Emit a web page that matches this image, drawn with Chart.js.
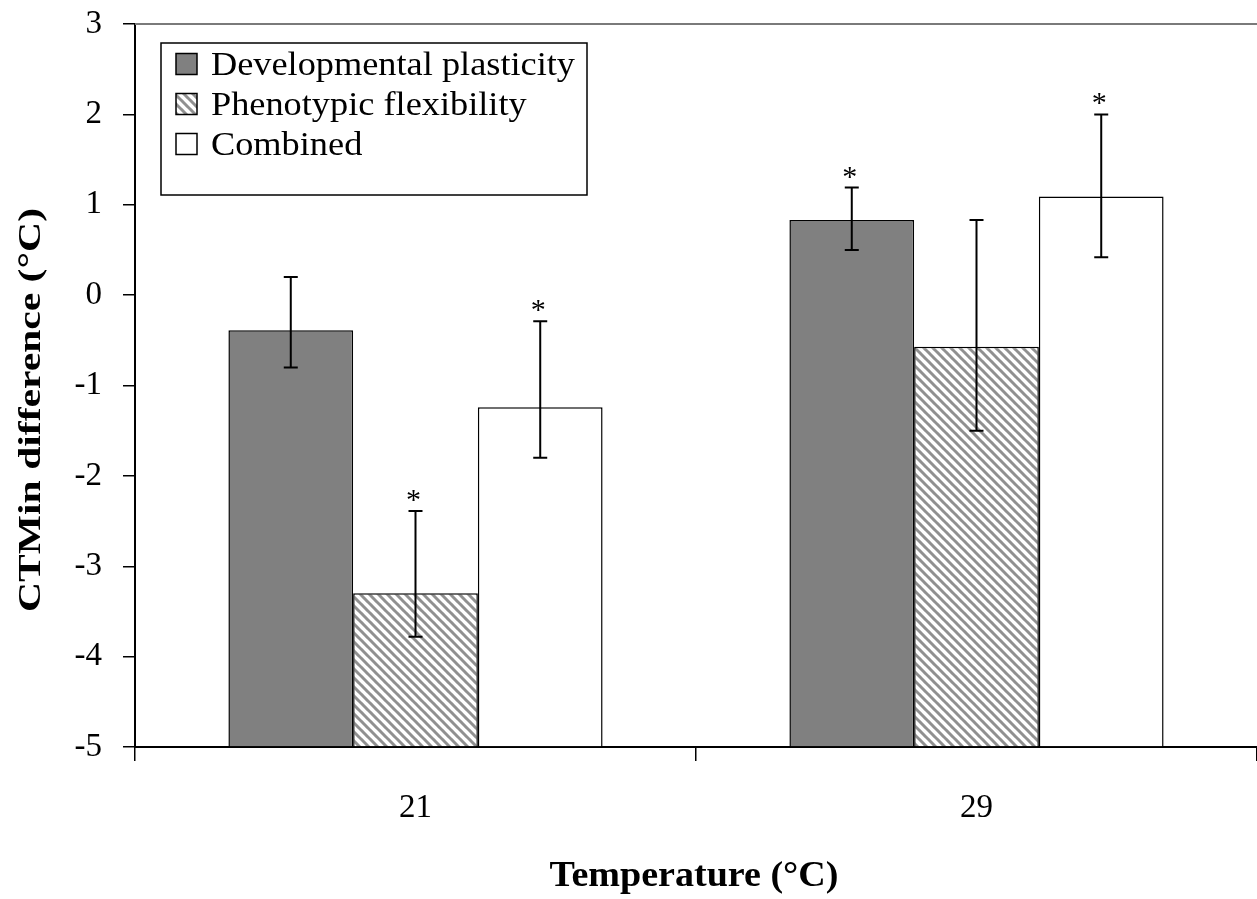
<!DOCTYPE html>
<html><head><meta charset="utf-8">
<script src="https://cdn.jsdelivr.net/npm/chart.js@4.4.1/dist/chart.umd.min.js"></script>
<style>html,body{margin:0;padding:0;background:#fff;} #wrap{width:1257px;height:899px;position:relative;}</style>
</head><body><div id="wrap"><canvas id="c"></canvas></div>
<script>
// ---- data ----
const categories = ['21', '29'];
const seriesNames = ['Developmental plasticity', 'Phenotypic flexibility', 'Combined'];
const devValues  = [-0.39, 0.83];
const phenValues = [-3.30, -0.57];
const combValues = [-1.24, 1.09];
const devErrHigh  = [0.20, 1.19];
const devErrLow   = [-0.80, 0.50];
const phenErrHigh = [-2.39, 0.83];
const phenErrLow  = [-3.78, -1.50];
const combErrHigh = [-0.29, 2.00];
const combErrLow  = [-1.80, 0.42];
const devSig  = [false, true];
const phenSig = [true, false];
const combSig = [true, true];
const yMin = -5, yMax = 3, yStep = 1;
const xTitle = 'Temperature (\u00B0C)';
const yTitle = 'CTMin difference (\u00B0C)';

const FONT = '"Liberation Serif", "Times New Roman", serif';

// hatch pattern
function makeHatch() {
  const s = 9;
  const pc = document.createElement('canvas');
  pc.width = s; pc.height = s;
  const p = pc.getContext('2d');
  p.fillStyle = '#ffffff'; p.fillRect(0, 0, s, s);
  p.strokeStyle = '#909090'; p.lineWidth = 3;
  for (const off of [-s, 0, s]) {
    p.beginPath(); p.moveTo(off - 1, -1); p.lineTo(off + s + 1, s + 1); p.stroke();
  }
  return p.createPattern(pc, 'repeat');
}
const hatch = makeHatch();

const errHigh = [devErrHigh, phenErrHigh, combErrHigh];
const errLow = [devErrLow, phenErrLow, combErrLow];
const sigs = [devSig, phenSig, combSig];

const errorBarPlugin = {
  id: 'errorBars',
  afterDatasetsDraw(chart) {
    const ctx = chart.ctx, y = chart.scales.y;
    ctx.save();
    ctx.strokeStyle = '#000'; ctx.lineWidth = 2;
    chart.data.datasets.forEach((ds, i) => {
      const meta = chart.getDatasetMeta(i);
      meta.data.forEach((bar, j) => {
        const x = bar.x;
        const yt = y.getPixelForValue(errHigh[i][j]);
        const yb = y.getPixelForValue(errLow[i][j]);
        ctx.beginPath();
        ctx.moveTo(x, yt); ctx.lineTo(x, yb);
        ctx.moveTo(x - 7, yt); ctx.lineTo(x + 7, yt);
        ctx.moveTo(x - 7, yb); ctx.lineTo(x + 7, yb);
        ctx.stroke();
        if (sigs[i][j]) {
          ctx.fillStyle = '#000';
          ctx.font = '30px ' + FONT;
          ctx.textAlign = 'center'; ctx.textBaseline = 'alphabetic';
          ctx.fillText('*', x - 2, yt - 2);
        }
      });
    });
    ctx.restore();
  }
};

const decorPlugin = {
  id: 'decor',
  afterDraw(chart) {
    const ctx = chart.ctx, a = chart.chartArea;
    ctx.save();
    // top border line
    ctx.strokeStyle = '#7a7a7a'; ctx.lineWidth = 2;
    ctx.beginPath(); ctx.moveTo(a.left, a.top); ctx.lineTo(a.right, a.top); ctx.stroke();

    // legend box
    const lx = 161, ly = 43, lw = 426, lh = 152;
    ctx.fillStyle = '#fff'; ctx.fillRect(lx, ly, lw, lh);
    ctx.strokeStyle = '#000'; ctx.lineWidth = 1.5;
    ctx.strokeRect(lx, ly, lw, lh);
    ctx.font = '33px ' + FONT;
    const sx = 364 / ctx.measureText(seriesNames[0]).width;
    const rows = [64, 104, 144];
    chart.data.datasets.forEach((ds, i) => {
      const cy = rows[i];
      ctx.fillStyle = ds.backgroundColor;
      ctx.fillRect(176, cy - 10.5, 21, 21);
      ctx.strokeStyle = '#000'; ctx.lineWidth = 1.5;
      ctx.strokeRect(176, cy - 10.5, 21, 21);
      ctx.save();
      ctx.translate(211, cy + 11);
      ctx.scale(sx, 1);
      ctx.fillStyle = '#000'; ctx.textAlign = 'left'; ctx.textBaseline = 'alphabetic';
      ctx.fillText(ds.label, 0, 0);
      ctx.restore();
    });

    // x title
    ctx.save();
    ctx.font = 'bold 35px ' + FONT;
    const xw = ctx.measureText(xTitle).width;
    ctx.translate(694, 886);
    ctx.scale(289 / xw, 1);
    ctx.fillStyle = '#000'; ctx.textAlign = 'center'; ctx.textBaseline = 'alphabetic';
    ctx.fillText(xTitle, 0, 0);
    ctx.restore();

    // y title
    ctx.save();
    ctx.font = 'bold 31px ' + FONT;
    const yw = ctx.measureText(yTitle).width;
    ctx.translate(40, 410);
    ctx.rotate(-Math.PI / 2);
    ctx.scale(404 / yw, 1);
    ctx.fillStyle = '#000'; ctx.textAlign = 'center'; ctx.textBaseline = 'alphabetic';
    ctx.fillText(yTitle, 0, 0);
    ctx.restore();
    ctx.restore();
  }
};

const common = { borderColor: '#000', borderWidth: 1.5, base: yMin, categoryPercentage: 0.667, barPercentage: 1.0 };

new Chart(document.getElementById('c'), {
  type: 'bar',
  data: {
    labels: categories,
    datasets: [
      Object.assign({ label: seriesNames[0], data: devValues, backgroundColor: '#808080' }, common),
      Object.assign({ label: seriesNames[1], data: phenValues, backgroundColor: hatch }, common),
      Object.assign({ label: seriesNames[2], data: combValues, backgroundColor: '#ffffff' }, common)
    ]
  },
  options: {
    responsive: true, maintainAspectRatio: false, animation: false,
    layout: { padding: { top: 24, right: 0, left: 0, bottom: 0 } },
    plugins: { legend: { display: false }, tooltip: { enabled: false } },
    scales: {
      x: {
        grid: { offset: true, drawOnChartArea: false, drawTicks: true, tickLength: 14, color: '#000', lineWidth: 1.5 },
        border: { display: true, color: '#000', width: 2 },
        ticks: { color: '#000', font: { family: FONT, size: 33 }, padding: 28 },
        afterFit(s) { s.height = 152; s.paddingLeft = 0; s.paddingRight = 0; }
      },
      y: {
        min: yMin, max: yMax,
        grid: { drawOnChartArea: false, drawTicks: true, tickLength: 12, color: '#000', lineWidth: 1.5 },
        border: { display: true, color: '#000', width: 2 },
        ticks: { stepSize: yStep, color: '#000', font: { family: FONT, size: 33 }, padding: 21 },
        afterFit(s) { s.width = 135; s.paddingTop = 0; s.paddingBottom = 0; }
      }
    }
  },
  plugins: [errorBarPlugin, decorPlugin]
});
</script>
</body></html>
